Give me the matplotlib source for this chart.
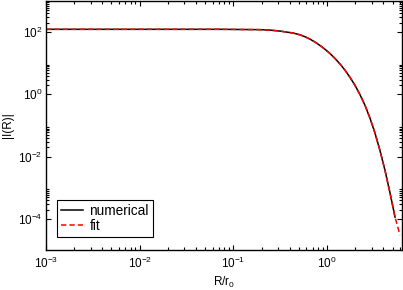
import matplotlib
matplotlib.use("Agg")
import matplotlib.pyplot as plt
from matplotlib.ticker import FixedLocator, FixedFormatter, NullFormatter

plt.rcParams['font.family'] = ['Liberation Sans', 'DejaVu Sans']
plt.rcParams['mathtext.fontset'] = 'custom'
plt.rcParams['mathtext.rm'] = 'Liberation Sans'
plt.rcParams['mathtext.it'] = 'Liberation Sans:italic'

# valeurs (R/r0 , |I(R)|)
r_vals = [0.001, 0.0101, 0.0721, 0.193, 0.246, 0.315, 0.434, 0.515, 0.582,
          0.658, 0.745, 0.842, 0.952, 1.076, 1.217, 1.376, 1.556, 1.760,
          1.99, 2.249, 2.544, 2.875, 3.25, 3.68, 4.16, 4.70, 5.32]
numerical = [123, 123, 123, 120, 116, 108, 93.5, 81.7, 71.0,
             59.4, 47.8, 37.2, 28.1, 20.5, 14.2, 9.48, 5.98, 3.52,
             1.94, 0.977, 0.445, 0.172, 0.0573, 0.0155, 3.59e-3, 6.9e-4, 1.14e-4]
# le fit continue un peu plus loin
r_fit = r_vals + [6.01]
fit = numerical + [3.0e-5]

x_major = [1e-3, 1e-2, 1e-1, 1]
x_labels = ['$\\mathregular{10^{-3}}$', '$\\mathregular{10^{-2}}$',
            '$\\mathregular{10^{-1}}$', '$\\mathregular{10^{0}}$']
y_major = [1e-4, 1e-2, 1, 1e2]
y_labels = ['$\\mathregular{10^{-4}}$', '$\\mathregular{10^{-2}}$',
            '$\\mathregular{10^{0}}$', '$\\mathregular{10^{2}}$']

fig = plt.figure(figsize=(4.03, 2.90), dpi=100)
ax = fig.add_axes([0.1141, 0.1379, 0.8827, 0.8587])

ax.plot(r_vals, numerical, color='black', lw=1.1, label='numerical')
ax.plot(r_fit, fit, color='red', lw=1.1, dashes=(3.5, 2), label='fit')

ax.set_xscale('log')
ax.set_yscale('log')
ax.set_xlim(1e-3, 6.27)
ax.set_ylim(1e-5, 1e3)

ax.xaxis.set_major_locator(FixedLocator(x_major))
ax.xaxis.set_major_formatter(FixedFormatter(x_labels))
ax.xaxis.set_minor_locator(FixedLocator([k * 10.0**e for e in range(-3, 1) for k in range(2, 10)]))
ax.xaxis.set_minor_formatter(NullFormatter())
ax.yaxis.set_major_locator(FixedLocator(y_major))
ax.yaxis.set_major_formatter(FixedFormatter(y_labels))
ax.yaxis.set_minor_locator(FixedLocator([k * 10.0**e for e in (-6, -4, -2, 0, 2) for k in range(2, 10)]))
ax.yaxis.set_minor_formatter(NullFormatter())

ax.tick_params(which='both', direction='in', top=True, right=True, labelsize=8.5, width=0.8)
ax.tick_params(which='major', length=3.8)
ax.tick_params(which='minor', length=2.2)
ax.tick_params(axis='x', pad=4)
ax.tick_params(axis='y', pad=2.5)
for s in ax.spines.values():
    s.set_linewidth(1.0)

ax.set_xlabel('R/r$_\\mathregular{0}$', fontsize=8.5, labelpad=3)
ax.set_ylabel('|I(R)|', fontsize=8.5, labelpad=3)

leg = ax.legend(loc='lower left', bbox_to_anchor=(0.03, 0.053), borderaxespad=0,
                fontsize=9.8, handlelength=1.6, handletextpad=0.5, labelspacing=0.05,
                borderpad=0.3, fancybox=False, framealpha=1, edgecolor='black')
leg.get_frame().set_linewidth(0.8)

fig.savefig('out.png', dpi=100)
